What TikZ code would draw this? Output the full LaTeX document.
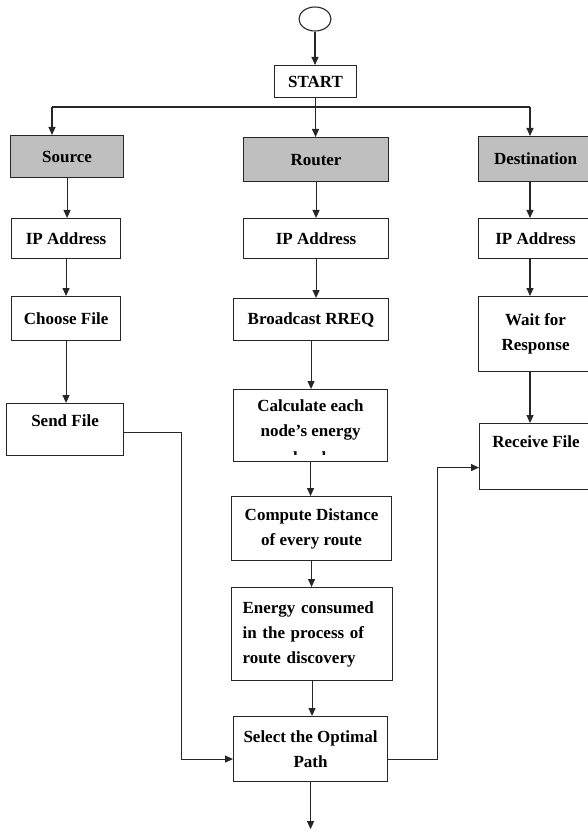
\documentclass[tikz,border=0pt]{standalone}
\usepackage{fontspec}
\setmainfont{Liberation Serif}
\usepackage{tikz}
\usetikzlibrary{arrows.meta,shapes.geometric}

\begin{document}
\begin{tikzpicture}[x=1pt,y=-1pt,
  box/.style={draw=black!85, line width=1.1pt, fill=white, anchor=north west, align=center,
    inner xsep=3pt, inner ysep=2pt, font=\bfseries\fontsize{17}{25}\selectfont},
  head/.style={box, fill=black!25},
  wire/.style={draw=black!85, line width=1.1pt},
  arr/.style={wire, -{Triangle[length=8pt,width=7pt]}}]
\useasboundingbox (0,0) rectangle (587,834);
\node[ellipse, draw=black!85, line width=1.1pt, minimum width=32pt, minimum height=24pt, inner sep=0pt] (term) at (315,19) {};
\node[box, minimum width=82pt, minimum height=32pt] (start) at (274,65) {START};
\node[head, minimum width=113pt, minimum height=42pt] (src) at (10,135) {Source};
\node[head, minimum width=145pt, minimum height=44pt] (rtr) at (243,137) {Router};
\node[head, minimum width=114pt, minimum height=45pt] (dst) at (478,136) {Destination};
\node[box, minimum width=109pt, minimum height=40pt] (sip) at (11,218) {IP Address};
\node[box, minimum width=145pt, minimum height=40pt] (rip) at (243,218) {IP Address};
\node[box, minimum width=114pt, minimum height=40pt] (dip) at (478,218) {IP Address};
\node[box, minimum width=109pt, minimum height=44pt] (choose) at (11,296) {Choose File};
\node[box, minimum width=155pt, minimum height=42pt] (bcast) at (233,298) {Broadcast RREQ};
\node[box, minimum width=114pt, minimum height=75pt] (wait) at (478,296) {Wait for\\Response};
\node[box, minimum width=117pt, text height=21pt, text depth=27pt] (send) at (6,403) {Send File};
\node[box, minimum width=154pt, minimum height=72pt, text depth=14pt] (calc) at (233,389) {Calculate each\\node’s energy};
\begin{scope}
\clip (233,446) rectangle (387,454);
\node[font=\bfseries\fontsize{17}{25}\selectfont, anchor=base, inner sep=0pt] (calcrest) at (313,463) {levels};
\end{scope}
\node[box, minimum width=113pt, text height=22pt, text depth=40pt] (rcv) at (479,423) {Receive File};
\node[box, minimum width=160pt, minimum height=64pt] (dist) at (231,496) {Compute Distance\\of every route};
\node[box, minimum width=161pt, minimum height=93pt, text width=139pt, align=left] (cons) at (231,587) {Energy consumed\\in the process of\\route discovery};
\node[box, minimum width=154pt, minimum height=65pt] (sel) at (233,716) {Select the Optimal\\Path};
\coordinate (busL) at (52,107);
\coordinate (busR) at (530,107);
\draw[arr] (term.south) -- (term.south |- start.north);
\draw[wire] (start.south) -- (start.south |- busL);
\draw[wire] (busL) -- (busR);
\draw[arr] (busL) -- (busL |- src.north);
\draw[arr] (start.south |- busL) -- (start.south |- rtr.north);
\draw[arr] (busR) -- (busR |- dst.north);
\draw[arr] (src.south) -- (src.south |- sip.north);
\draw[arr] (sip.south) -- (sip.south |- choose.north);
\draw[arr] (choose.south) -- (choose.south |- send.north);
\draw[arr] (rtr.south) -- (rtr.south |- rip.north);
\draw[arr] (rip.south) -- (rip.south |- bcast.north);
\draw[arr] (bcast.south) -- (bcast.south |- calc.north);
\draw[arr] (calc.south) -- (calc.south |- dist.north);
\draw[arr] (dist.south) -- (dist.south |- cons.north);
\draw[arr] (cons.south) -- (cons.south |- sel.north);
\draw[arr] (busR |- dst.south) -- (busR |- dip.north);
\draw[arr] (busR |- dip.south) -- (busR |- wait.north);
\draw[arr] (busR |- wait.south) -- (busR |- rcv.north);
\draw[arr] ([yshift=-3pt]send.east) -- ++(57,0) |- ([yshift=-10pt]sel.west);
\draw[arr] ([yshift=-10pt]sel.east) -- ++(49,0) |- ([yshift=-11pt]rcv.west);
\draw[arr] (sel.south) -- ++(0,47);
\end{tikzpicture}
\end{document}
